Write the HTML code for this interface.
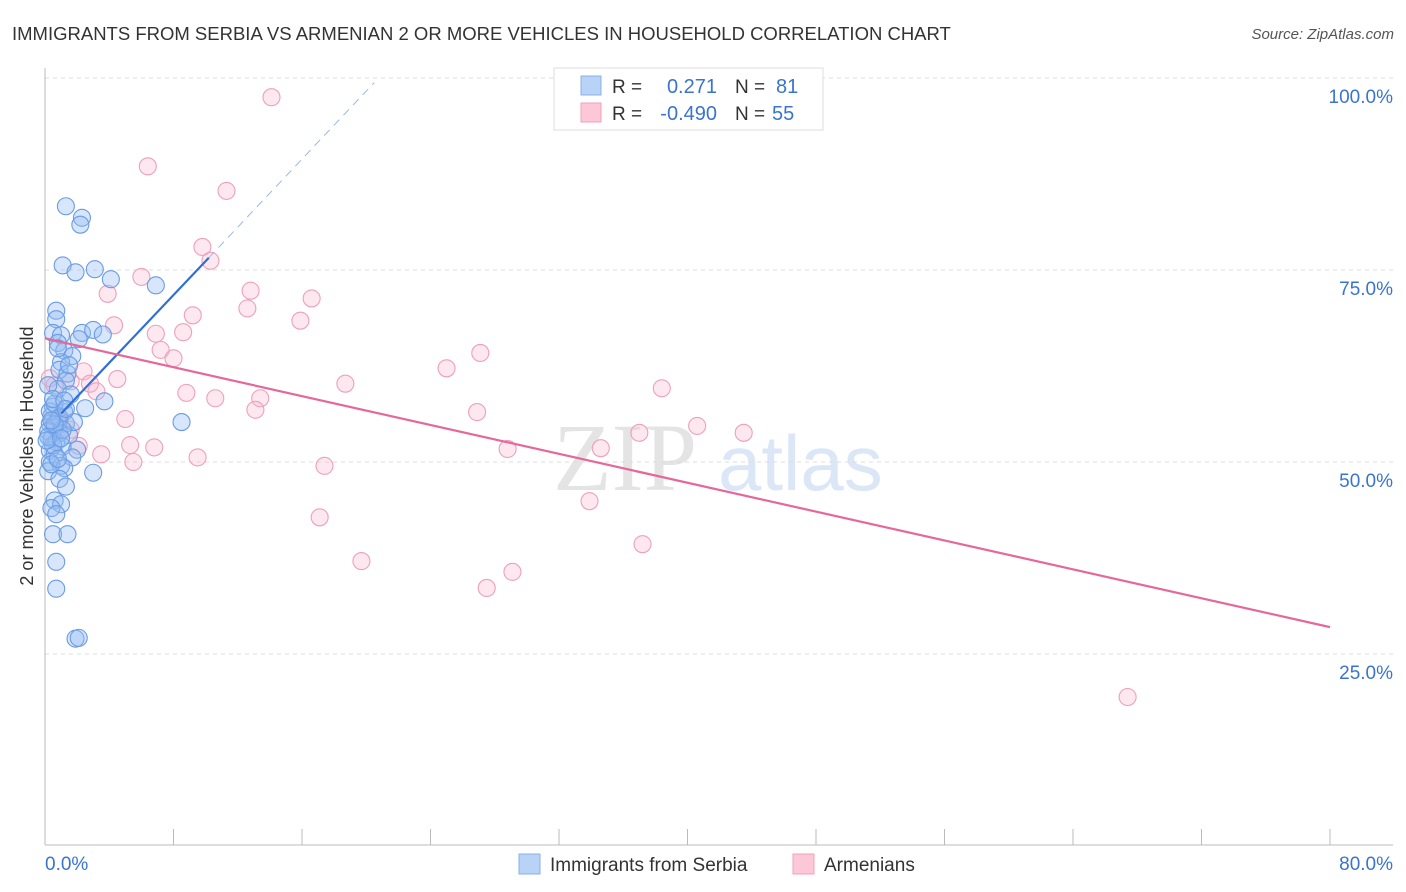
<!DOCTYPE html>
<html><head><meta charset="utf-8"><style>
body{margin:0;background:#fff;font-family:"Liberation Sans",sans-serif;}
svg{display:block}
</style></head><body>
<svg id="chart" width="1406" height="892" xmlns="http://www.w3.org/2000/svg">
<text x="12" y="40" font-size="18.5" fill="#333">IMMIGRANTS FROM SERBIA VS ARMENIAN 2 OR MORE VEHICLES IN HOUSEHOLD CORRELATION CHART</text>
<text x="1394" y="39" font-size="15" fill="#555" text-anchor="end" font-style="italic">Source: ZipAtlas.com</text>
<g>
<text x="553" y="490" font-size="96" font-family="Liberation Serif,serif" fill="#e4e4e4">ZIP</text>
<text x="718" y="490" font-size="78" fill="#dbe7f6">atlas</text>
</g>
<g id="grid"></g>
<g id="axes"></g>
<g id="points"></g>
<g id="lines"></g>
<text transform="translate(33,456) rotate(-90)" font-size="18" fill="#333" text-anchor="middle">2 or more Vehicles in Household</text>
<g>
<rect x="554" y="68" width="269" height="62" fill="#fff" stroke="#ddd"/>
<rect x="581" y="76" width="20" height="19" fill="#b8d3f5" stroke="#8ab2ea"/>
<rect x="581" y="103" width="20" height="19" fill="#fcc8d8" stroke="#f0a0ba"/>
<text x="612" y="93" font-size="19" fill="#333">R =</text>
<text x="717" y="93" font-size="20" fill="#3a74d0" text-anchor="end">0.271</text>
<text x="735" y="93" font-size="19" fill="#333">N =</text>
<text x="776" y="93" font-size="20" fill="#3a74d0">81</text>
<text x="612" y="120" font-size="19" fill="#333">R =</text>
<text x="717" y="120" font-size="20" fill="#3a74d0" text-anchor="end">-0.490</text>
<text x="735" y="120" font-size="19" fill="#333">N =</text>
<text x="772" y="120" font-size="20" fill="#3a74d0">55</text>
</g>
<g>
<rect x="519" y="854" width="21" height="20" fill="#b8d3f5" stroke="#8ab2ea"/>
<text x="550" y="871" font-size="19" fill="#333">Immigrants from Serbia</text>
<rect x="793" y="854" width="21" height="20" fill="#fcc8d8" stroke="#f0a0ba"/>
<text x="824" y="871" font-size="19" fill="#333">Armenians</text>
</g>
</svg>
<script>
const yTicks=[25,50,75,100];
const yTickLabels=["25.0%","50.0%","75.0%","100.0%"];
const xTicks=[0,8,16,24,32,40,48,56,64,72,80];
const xEndLabels=["0.0%","80.0%"];
const serbia=[[1.3,83.3],[2.3,81.8],[2.2,80.9],[1.1,75.6],[1.9,74.7],[3.1,75.1],[4.1,73.8],[6.9,73.0],[0.7,69.7],[0.7,68.6],[0.5,66.8],[1.0,66.5],[2.3,66.8],[3.0,67.2],[3.6,66.6],[2.1,66.0],[0.8,65.5],[1.2,64.5],[1.7,63.8],[1.0,63.0],[0.9,62.0],[1.4,61.5],[1.3,60.6],[0.8,59.5],[1.6,58.8],[3.7,57.9],[0.5,57.2],[1.2,56.5],[0.4,56.0],[0.8,55.6],[0.3,55.0],[1.3,55.0],[0.6,54.5],[0.2,54.0],[0.9,53.8],[1.5,53.5],[0.4,53.0],[0.7,52.6],[1.1,52.0],[0.3,51.5],[0.6,51.0],[2.0,51.6],[1.7,50.6],[0.3,50.0],[1.0,49.5],[1.2,49.2],[0.2,48.8],[3.0,48.6],[0.9,47.8],[1.3,46.8],[0.6,45.0],[1.0,44.5],[0.4,44.0],[0.7,43.2],[0.5,40.6],[1.4,40.6],[0.7,37.0],[0.7,33.5],[1.9,27.0],[2.1,27.1],[8.5,55.2],[0.3,56.6],[0.6,57.6],[1.8,55.2],[0.5,52.2],[0.2,53.3],[0.9,55.8],[1.1,54.2],[0.4,49.7],[1.5,62.6],[0.8,64.8],[0.2,60.0],[0.5,58.2],[1.2,58.0],[0.1,52.8],[0.8,50.4],[1.3,56.9],[0.6,54.9],[1.0,53.1],[0.4,55.4],[2.5,57.0]];
const armenians=[[14.1,97.5],[6.4,88.5],[11.3,85.3],[9.8,78.0],[10.3,76.2],[6.0,74.1],[3.9,71.9],[12.8,72.3],[16.6,71.3],[12.6,70.0],[9.2,69.1],[15.9,68.4],[4.3,67.8],[6.9,66.7],[8.6,66.9],[7.2,64.6],[8.0,63.5],[27.1,64.2],[25.0,62.2],[2.4,61.8],[1.6,60.5],[4.5,60.8],[2.8,60.2],[18.7,60.2],[38.4,59.6],[3.2,59.2],[8.8,59.0],[10.6,58.3],[13.4,58.3],[13.1,56.8],[26.9,56.5],[5.0,55.6],[40.6,54.7],[37.0,53.8],[43.5,53.8],[5.3,52.2],[6.8,51.9],[2.1,52.1],[28.8,51.7],[34.6,51.8],[3.5,51.0],[9.5,50.6],[5.5,50.0],[17.4,49.5],[33.9,44.9],[17.1,42.8],[37.2,39.3],[19.7,37.1],[29.1,35.7],[27.5,33.6],[67.4,19.4],[0.6,60.0],[0.9,55.5],[1.6,54.2],[0.3,60.9]];
const serbiaTrend=[[1.0,56.3],[10.2,76.6],[20.5,99.4]];
const armeniaTrend=[[0,66.1],[80,28.5]];
const NS="http://www.w3.org/2000/svg";
const X=v=>45+v/80*1285, Y=v=>846-v/25*192;
function mk(tag,attrs,parent){const e=document.createElementNS(NS,tag);for(const k in attrs)e.setAttribute(k,attrs[k]);document.getElementById(parent).appendChild(e);return e;}
yTicks.forEach((t,i)=>{
 const g=mk('line',{x1:45,x2:1393,y1:Y(t),y2:Y(t),stroke:'#ddd','stroke-dasharray':'4,4'},'grid');
 
 
 const l=mk('text',{x:1393,y:Y(t)+25,'font-size':19,fill:'#3a74d0','text-anchor':'end'},'axes');
 l.textContent=yTickLabels[i];
 
 
});
mk('line',{x1:45,x2:45,y1:68,y2:845,stroke:'#bbb'},'axes');
mk('line',{x1:45,x2:1393,y1:845,y2:845,stroke:'#bbb'},'axes');
xTicks.forEach(t=>{const e=mk('line',{x1:X(t),x2:X(t),y1:829,y2:845,stroke:'#bbb'},'axes');
 
 });
[0,80].forEach((t,i)=>{const e=mk('text',{x:i?1393:45,y:870,'font-size':19,fill:'#3a74d0','text-anchor':i?'end':'start'},'axes');e.textContent=xEndLabels[i];
 
 });
armenians.forEach(p=>{const c=mk('circle',{cx:X(p[0]),cy:Y(p[1]),r:8.5,fill:'rgba(248,180,204,0.3)',stroke:'#ef9fba','stroke-width':1.1},'points');
 
 });
serbia.forEach(p=>{const c=mk('circle',{cx:X(p[0]),cy:Y(p[1]),r:8.5,fill:'rgba(150,190,242,0.38)',stroke:'#6a9be4','stroke-width':1.1},'points');
 
 });
let a=serbiaTrend;
let e=mk('line',{x1:X(a[0][0]),y1:Y(a[0][1]),x2:X(a[1][0]),y2:Y(a[1][1]),stroke:'#2f6fd6','stroke-width':2.2},'lines');


e=mk('line',{x1:X(a[1][0]),y1:Y(a[1][1]),x2:X(a[2][0]),y2:Y(a[2][1]),stroke:'#9bb8e6','stroke-width':1,'stroke-dasharray':'8,6'},'lines');


a=armeniaTrend;
e=mk('line',{x1:X(a[0][0]),y1:Y(a[0][1]),x2:X(a[1][0]),y2:Y(a[1][1]),stroke:'#e5689a','stroke-width':2.2},'lines');


</script>
</body></html>
